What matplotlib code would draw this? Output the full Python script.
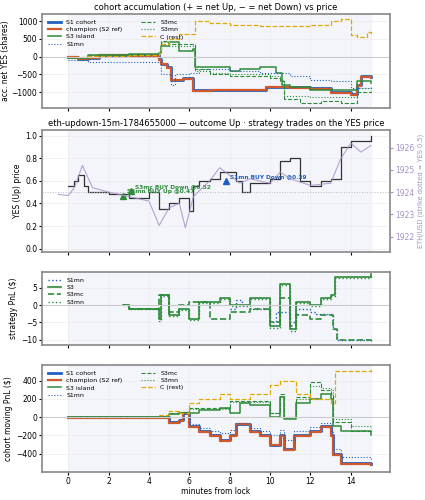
import matplotlib
matplotlib.use("Agg")
import matplotlib.pyplot as plt
import numpy as np

# ---- panel 1: accumulated shares ----
s1c_t = [0,0.5,1,1.5,3,4.5,4.6,4.9,5.1,5.7,6.1,6.2,7,9.8,10.5,11,12,13,14,14.3,14.5,15]
s1c_v = [0,-80,-50,50,40,-80,-200,-300,-650,-600,-600,-950,-930,-850,-850,-870,-900,-1000,-1050,-800,-550,-580]
ch_t = s1c_t
ch_v = [0,-80,-50,40,30,-90,-220,-320,-670,-620,-620,-970,-950,-870,-870,-890,-920,-1020,-1070,-820,-570,-600]
s3i_t = [0,1,3,4.5,4.6,5,5.5,6.2,6.3,7.5,8,8.5,9.5,10,10.3,10.6,11,12,14.3,15]
s3i_v = [-50,50,80,100,300,400,150,200,-300,-300,-400,-350,-300,-300,-450,-800,-850,-950,-700,-750]
s1mn_t = [0,1,2,4.5,4.6,5.1,5.3,6,6.5,8,9.5,10,11,12,13,14,15]
s1mn_v = [-100,-150,-150,-150,-500,-800,-500,-450,-350,-400,-450,-450,-550,-650,-700,-900,-950]
s3mc_t = [0,1,4.5,4.6,5,6.3,7,8,9.5,10,10.5,10.7,11.5,12.5,13.5,14.3,15]
s3mc_v = [-50,50,100,450,350,-350,-500,-550,-550,-600,-700,-1200,-1300,-1250,-1300,-1000,-980]
s3mn_t = [0,1,4.5,4.6,5,6.3,7,8,9.5,10,10.5,10.7,12,13.5,14.3,15]
s3mn_v = [-50,40,90,400,300,-400,-450,-500,-500,-550,-650,-1100,-1150,-1150,-900,-870]
cr_t = [0,1,3,4.5,4.6,5,5.5,6,6.3,7,8,9.5,12,13,13.5,14,14.3,14.8,15]
cr_v = [0,20,50,100,350,500,650,650,1000,950,900,850,900,1000,1050,600,550,700,600]

# ---- panel 2: YES price and ETH ----
yes_t = [0,0.3,0.5,0.8,1,2,3,4,4.5,5,5.5,6,6.2,6.5,7,7.5,8.3,8.6,9,10,10.5,11,11.5,12,12.5,13,13.5,14,15]
yes_v = [0.55,0.6,0.65,0.55,0.5,0.48,0.45,0.5,0.35,0.4,0.45,0.33,0.55,0.6,0.62,0.68,0.6,0.5,0.58,0.62,0.78,0.8,0.6,0.55,0.6,0.62,0.9,0.95,1.0]
eth_t = [-0.5,0,0.3,0.7,1.2,2,3,4,4.5,5,5.5,5.8,6.2,7,7.5,8.5,9,10,10.5,11,12,13,13.5,14,14.5,15]
eth_v = [1923.9,1923.85,1924.2,1925.2,1924.2,1924,1923.8,1923.6,1922.5,1923.3,1923.5,1922.4,1923.8,1924.5,1925.1,1924.4,1924.6,1924.4,1924.9,1924.6,1924.3,1924.4,1925.5,1926.2,1925.8,1926.1]
trade_t = [2.7, 3.1, 7.8]
trade_p = [0.47, 0.51, 0.60]
trade_lbl = ["S3mn BUY Up @0.47", "S3mc BUY Down @0.52", "S1mn BUY Down @0.39"]
trade_col = ["#2e8b3a", "#2e8b3a", "#1f5fbf"]

# ---- panel 3: strategy PnL ----
p_s1mn_t = [8,8.3,8.6,9,10,10.3,11,11.3,12,12.3,13,13.1,13.3,15]
p_s1mn_v = [-1,1.5,0,-1,-5,-2,-5,-1,-2,-2.5,-3,-7,-10,-10.5]
p_s3_t = [2.7,3,4.5,4.6,5,5.5,6,6.5,7.5,8,9,10,10.5,11,11.3,12,12.5,13,13.2,15]
p_s3_v = [0,-1,-4,3,-3,-1,-4,1,2,0,2,-6,6,-7,1,0,2,3,8,9]
p_s3mc_t = [2.7,3,4.5,5,5.5,6,7,8,9,10,10.5,11,11.3,12,12.5,13,13.1,13.3,15]
p_s3mc_v = [0,-1,3,-2,0,1,-4,-2,-1,-5,2,-6,-3,-4,-3,-3,-7,-10,-10.3]
p_s3mn_t = [2.7,3,4.5,4.6,5,5.5,6,6.5,7.5,8,9,10,10.5,11,11.3,12,12.5,13,13.2,15]
p_s3mn_v = [0,-1.2,-4.5,2.5,-3.3,-1.3,-4.3,0.7,1.7,-0.3,1.7,-6.5,5.7,-7.5,0.7,-0.3,1.7,2.7,7.7,8.8]

# ---- panel 4: cohort moving PnL ----
m_s1c_t = [0,4.5,5,5.5,5.7,6,6.5,7,7.5,8,8.3,9,9.5,10,10.5,10.7,11.2,12,12.5,13,13.1,13.5,15]
m_s1c_v = [0,0,-50,-30,50,-100,-150,-200,-250,-200,-70,-150,-200,-300,-200,-350,-200,-150,-100,-200,-400,-500,-510]
m_ch_v = [v - 10 for v in m_s1c_v]
m_s3i_t = [0,4.5,5,5.5,6,6.5,7.5,8,8.5,9,10,10.5,10.7,11.3,12,12.5,13,13.1,13.5,15]
m_s3i_v = [0,0,30,50,50,80,100,50,150,130,0,220,-20,150,200,250,200,-100,-150,-200]
m_s1mn_t = m_s1c_t
m_s1mn_v = [0,0,-40,-20,40,-80,-120,-150,-170,-140,-60,-120,-150,-200,-140,-250,-150,-110,-60,-150,-350,-440,-460]
m_s3mc_t = [0,4.5,5,5.5,6,8,10,10.5,10.7,11.3,12,12.5,13,13.1,14,15]
m_s3mc_v = [0,0,40,60,100,180,50,250,0,220,380,300,250,-50,-150,-170]
m_s3mn_t = m_s3mc_t
m_s3mn_v = [0,0,35,55,90,160,40,230,-10,200,340,320,300,-20,-100,-120]
m_cr_t = [0,4.5,5,5.5,6,6.5,7.5,8,9,10,10.5,11.3,12,13,13.2,15]
m_cr_v = [0,20,70,50,150,200,250,200,250,350,400,250,200,150,500,530]

BLUE = "#2060c0"; ORANGE = "#d0582a"; GREEN = "#2e8b3a"; GOLD = "#e0a800"; PURPLE = "#a58fc9"

plt.rcParams.update({"font.size": 5})
fig = plt.figure(figsize=(4.25, 5), dpi=100)
L, W = 0.099, 0.819
ax1 = fig.add_axes([L, 0.784, W, 0.188])
ax2 = fig.add_axes([L, 0.496, W, 0.244], sharex=ax1)
ax3 = fig.add_axes([L, 0.310, W, 0.146], sharex=ax1)
ax4 = fig.add_axes([L, 0.056, W, 0.214], sharex=ax1)

for ax in (ax1, ax2, ax3, ax4):
    ax.axvspan(0, 15, color="#eef1f8", alpha=0.7, zorder=0)
    ax.grid(True, color="#ececec", lw=0.5)
    for s in ax.spines.values():
        s.set_color("#888888"); s.set_linewidth(1.2)
    ax.tick_params(labelsize=5.5, length=2, pad=1.5)
ax1.set_xlim(-1.3, 15.95)

def st(ax, t, v, **kw):
    ax.plot(t, v, drawstyle="steps-post", **kw)

st(ax1, s1c_t, s1c_v, color=BLUE, lw=2, label="S1 cohort")
st(ax1, ch_t, ch_v, color=ORANGE, lw=1.6, label="champion (S2 ref)")
st(ax1, s3i_t, s3i_v, color=GREEN, lw=1.1, label="S3 island")
st(ax1, s1mn_t, s1mn_v, color=BLUE, lw=0.8, ls=":", label="S1mn")
st(ax1, s3mc_t, s3mc_v, color=GREEN, lw=0.8, ls="--", label="S3mc")
st(ax1, s3mn_t, s3mn_v, color=GREEN, lw=0.8, ls=":", label="S3mn")
st(ax1, cr_t, cr_v, color=GOLD, lw=0.9, ls="--", label="C (rest)")
ax1.axhline(0, color="#cccccc", lw=0.8)
ax1.set_ylim(-1450, 1200)
ax1.set_yticks([-1000, -500, 0, 500, 1000])
ax1.set_ylabel("acc. net YES (shares)", fontsize=5.5, labelpad=1)
ax1.set_title("cohort accumulation (+ = net Up, \u2212 = net Down) vs price", fontsize=6, pad=3)
ax1.legend(ncol=2, fontsize=4.5, frameon=False, loc="upper left", handlelength=2.2, labelspacing=0.3, columnspacing=3)
plt.setp(ax1.get_xticklabels(), visible=False)

st(ax2, yes_t, yes_v, color="#333333", lw=0.9)
ax2.axhline(0.5, color="#bbbbbb", lw=0.7, ls=":")
ax2.set_ylim(-0.03, 1.05)
ax2.set_ylabel("YES (Up) price", fontsize=5.5, labelpad=2)
ax2.set_title("eth-updown-15m-1784655000 \u2014 outcome Up \u00b7 strategy trades on the YES price", fontsize=6, pad=3)
for t, p, lb, c in zip(trade_t, trade_p, trade_lbl, trade_col):
    ax2.plot(t, p, marker="^", color=c, ms=5, ls="none", zorder=5)
    ax2.annotate(lb, (t, p), xytext=(3, 2), textcoords="offset points", fontsize=4.2, color=c, fontweight="bold")
ax2r = ax2.twinx()
ax2r.plot(eth_t, eth_v, color=PURPLE, lw=0.8, alpha=0.8)
ax2r.set_ylim(1924 + (-0.03 - 0.5) / 0.197, 1924 + (1.05 - 0.5) / 0.197)
ax2r.set_yticks([1922, 1923, 1924, 1925, 1926])
ax2r.tick_params(labelsize=5.5, colors=PURPLE, length=2, pad=1.5)
ax2r.set_ylabel("ETH/USD (strike dotted = YES 0.5)", fontsize=4.8, color=PURPLE, labelpad=2)
for s in ax2r.spines.values():
    s.set_visible(False)
plt.setp(ax2.get_xticklabels(), visible=False)

st(ax3, p_s1mn_t, p_s1mn_v, color=BLUE, lw=1, ls=":", label="S1mn")
st(ax3, p_s3_t, p_s3_v, color=GREEN, lw=1.2, label="S3")
st(ax3, p_s3mc_t, p_s3mc_v, color=GREEN, lw=1.2, ls="--", label="S3mc")
st(ax3, p_s3mn_t, p_s3mn_v, color=GREEN, lw=1, ls=":", label="S3mn")
ax3.axhline(0, color="#cccccc", lw=0.8)
ax3.set_ylim(-11.5, 9.5)
ax3.set_yticks([-10, -5, 0, 5])
ax3.set_ylabel("strategy PnL ($)", fontsize=5.5, labelpad=2)
ax3.legend(fontsize=4.5, frameon=False, loc="upper left", handlelength=2.2, labelspacing=0.3)
plt.setp(ax3.get_xticklabels(), visible=False)

st(ax4, m_s1c_t, m_s1c_v, color=BLUE, lw=2, label="S1 cohort")
st(ax4, m_s1c_t, m_ch_v, color=ORANGE, lw=1.6, label="champion (S2 ref)")
st(ax4, m_s3i_t, m_s3i_v, color=GREEN, lw=1.1, label="S3 island")
st(ax4, m_s1mn_t, m_s1mn_v, color=BLUE, lw=0.8, ls=":", label="S1mn")
st(ax4, m_s3mc_t, m_s3mc_v, color=GREEN, lw=0.8, ls="--", label="S3mc")
st(ax4, m_s3mn_t, m_s3mn_v, color=GREEN, lw=0.8, ls=":", label="S3mn")
st(ax4, m_cr_t, m_cr_v, color=GOLD, lw=0.9, ls="--", label="C (rest)")
ax4.axhline(0, color="#cccccc", lw=0.8)
ax4.set_ylim(-600, 570)
ax4.set_yticks([-400, -200, 0, 200, 400])
ax4.set_ylabel("cohort moving PnL ($)", fontsize=5.5, labelpad=2)
ax4.set_xlabel("minutes from lock", fontsize=5.5, labelpad=1)
ax4.set_xticks([0, 2, 4, 6, 8, 10, 12, 14])
ax4.legend(ncol=2, fontsize=4.5, frameon=False, loc="upper left", handlelength=2.2, labelspacing=0.3, columnspacing=3)

fig.savefig("out.png", dpi=100)
